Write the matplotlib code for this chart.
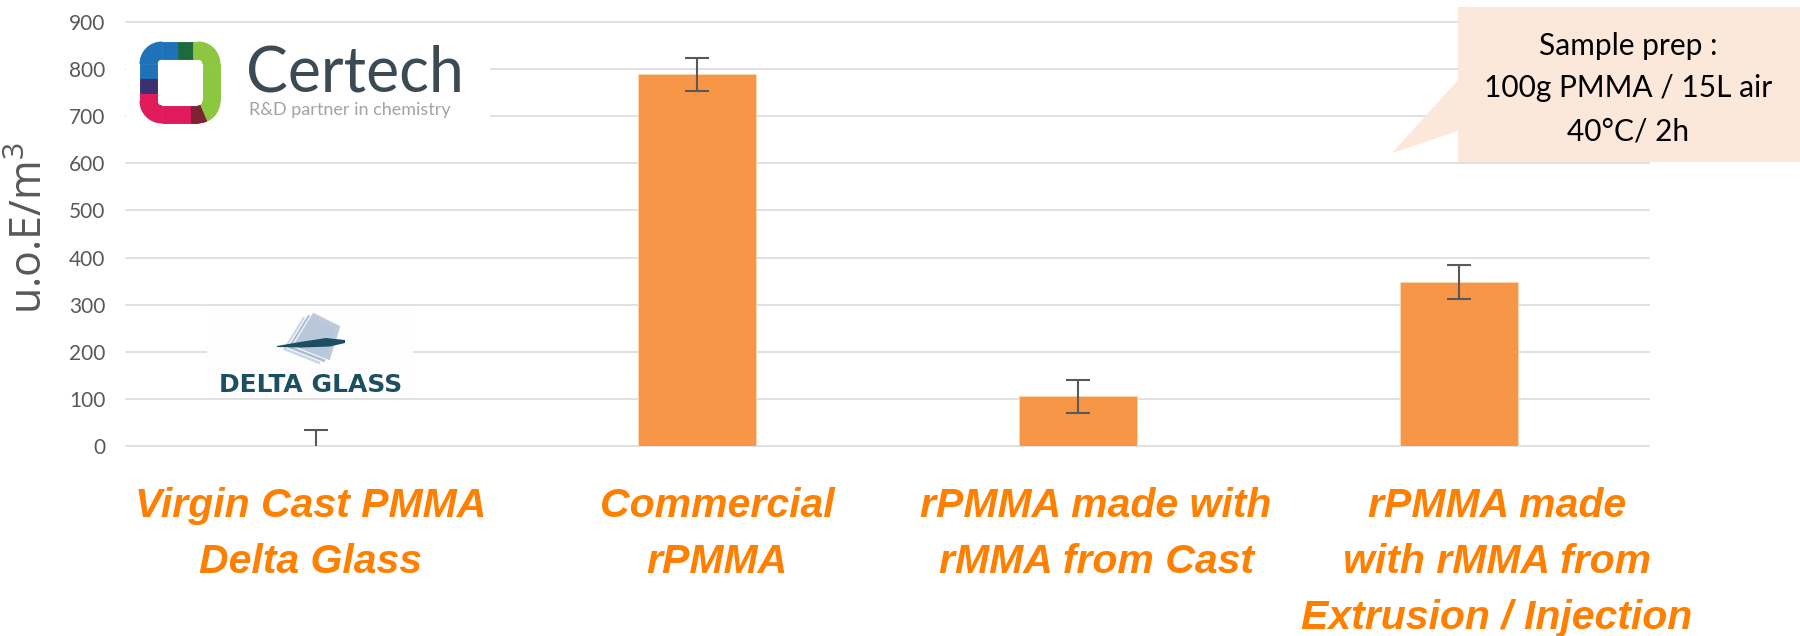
import matplotlib
matplotlib.use("Agg")
import numpy as np
import matplotlib.pyplot as plt
import matplotlib.transforms as mtransforms
from matplotlib.patches import Rectangle, Polygon
from matplotlib.collections import PolyCollection

plt.rcParams["font.family"] = ["Lato", "DejaVu Sans"]
plt.rcParams["mathtext.default"] = "regular"

# ---- data -------------------------------------------------------------
categories = [
    "Virgin Cast PMMA\nDelta Glass",
    "Commercial\nrPMMA",
    "rPMMA made with\nrMMA from Cast",
    "rPMMA made\nwith rMMA from\nExtrusion / Injection",
]
odour_conc = [0, 789, 106, 349]        # u.o.E/m3
odour_err = [35, 35, 35, 36]
label_shift = [-0.015, 0.052, 0.048, 0.10]
y_ticks = [0, 100, 200, 300, 400, 500, 600, 700, 800, 900]
note_lines = ["Sample prep :", "100g PMMA / 15L air", "40°C/ 2h"]

W, H = 1800, 636
fig = plt.figure(figsize=(W / 100, H / 100), dpi=100)
fig.patch.set_facecolor("white")

# ---- bar chart --------------------------------------------------------
ax = fig.add_axes([126 / W, 1 - 446 / H, (1649 - 126) / W, 424 / H])
x = np.arange(len(categories))
ax.bar(x, odour_conc, width=0.31, color="#f79646", edgecolor="#fcd7b4",
       linewidth=0.6, zorder=2)
ax.errorbar(x, odour_conc, yerr=odour_err, fmt="none", ecolor="#595959",
            elinewidth=1.5, capsize=8.5, capthick=1.5, zorder=3)
ax.set_xlim(-0.5, len(categories) - 0.5)
ax.set_ylim(0, 900)
ax.set_yticks(y_ticks)
ax.yaxis.grid(True, color="#d9d9d9", linewidth=1.1)
for gl in ax.get_ygridlines():
    gl.set_clip_on(False)
ax.set_axisbelow(True)
for s in ax.spines.values():
    s.set_visible(False)
ax.tick_params(axis="y", length=0, pad=15, labelsize=15, labelcolor="#595959")
ax.tick_params(axis="x", length=0, labelbottom=False)
ax.set_xticks(x)

fig.text(31 / W, 1 - 228 / H, "u.o.E/m$^3$", rotation=90, ha="center",
         va="center", fontsize=31, color="#595959",
         family=["Open Sans", "DejaVu Sans"])

# ---- decoration layer in pixel units (y pointing down) ----------------
deco = fig.add_axes([0, 0, 1, 1], zorder=5)
deco.set_xlim(0, W)
deco.set_ylim(H, 0)
deco.axis("off")
deco.patch.set_alpha(0)

# category labels under the bars
lab_tf = mtransforms.blended_transform_factory(ax.transData, deco.transData)
baselines = [517, 573, 629]
for i, (cat, dx) in enumerate(zip(categories, label_shift)):
    for k, line in enumerate(cat.split("\n")):
        deco.text(i + dx, baselines[k], line, transform=lab_tf, ha="center",
                  va="baseline", fontsize=29.5, color="#ff8000",
                  family=["Liberation Sans", "DejaVu Sans"],
                  fontweight="bold", fontstyle="italic")

# Certech logo
deco.add_patch(Rectangle((126, 25), 364, 112, facecolor="white",
                         edgecolor="none", zorder=1))


def ring_samples(x0, y0, x1, y1, r, n=24):
    s = []
    for a in np.linspace(180, 270, n):
        s.append((x0 + r, y0 + r, a))
    for t in np.linspace(0, 1, n)[1:]:
        s.append((x0 + r + t * (x1 - x0 - 2 * r), y0 + r, 270))
    for a in np.linspace(270, 360, n)[1:]:
        s.append((x1 - r, y0 + r, a))
    for t in np.linspace(0, 1, n)[1:]:
        s.append((x1 - r, y0 + r + t * (y1 - y0 - 2 * r), 0))
    for a in np.linspace(0, 90, n)[1:]:
        s.append((x1 - r, y1 - r, a))
    for t in np.linspace(0, 1, n)[1:]:
        s.append((x1 - r - t * (x1 - x0 - 2 * r), y1 - r, 90))
    for a in np.linspace(90, 180, n)[1:]:
        s.append((x0 + r, y1 - r, a))
    for t in np.linspace(0, 1, n)[1:]:
        s.append((x0 + r, y1 - r - t * (y1 - y0 - 2 * r), 180))
    return s


def ring_colour(px, py):
    if px < 162:
        if py > 93:
            return "#e01a5b"
        if py > 79:
            return "#3b2f6e"
        return "#1f72b8"
    if py < 70:
        if px < 177:
            return "#1f72b8"
        if px < 193:
            return "#1d6a3d"
        return "#8dc63f"
    if py > 100:
        if px < 190:
            return "#e01a5b"
        if px < 203:
            return "#7c2234"
        return "#8dc63f"
    return "#8dc63f"


samples = ring_samples(148.5, 50.5, 211.5, 114.5, 13.5)
half = 8.5
r0 = 13.5
quads, cols = [], []
for (ax0, ay0, a0), (ax1, ay1, a1) in zip(samples[:-1], samples[1:]):
    c0, s0 = np.cos(np.radians(a0)), np.sin(np.radians(a0))
    c1, s1 = np.cos(np.radians(a1)), np.sin(np.radians(a1))
    po0 = (ax0 + (r0 + half) * c0, ay0 + (r0 + half) * s0)
    po1 = (ax1 + (r0 + half) * c1, ay1 + (r0 + half) * s1)
    pi1 = (ax1 + (r0 - half) * c1, ay1 + (r0 - half) * s1)
    pi0 = (ax0 + (r0 - half) * c0, ay0 + (r0 - half) * s0)
    quads.append([po0, po1, pi1, pi0])
    mx = (ax0 + r0 * c0 + ax1 + r0 * c1) / 2
    my = (ay0 + r0 * s0 + ay1 + r0 * s1) / 2
    cols.append(ring_colour(mx, my))
deco.add_collection(PolyCollection(quads, facecolors=cols, edgecolors=cols,
                                   linewidths=0.6, zorder=2))

deco.text(246, 91, "Certech", fontsize=45, color="#3c4a54", ha="left",
          va="baseline", zorder=3)
deco.text(249, 115, "R&D partner in chemistry", fontsize=13,
          color="#9ea4a8", ha="left", va="baseline", zorder=3)

# Delta Glass logo
deco.add_patch(Rectangle((207, 308), 206, 90, facecolor="#fefefe",
                         edgecolor="none", zorder=1))
plate = np.array([(303, 316), (331, 330), (320, 365), (282, 350)], float)
for k, fc in enumerate(["#c9d5e3", "#a9bcd3", "#b9c8da"]):
    deco.add_patch(Polygon(plate + np.array([5 * k, -2 * k]), closed=True,
                           facecolor=fc, edgecolor="white", linewidth=0.8,
                           alpha=0.95, zorder=2))
swoosh = [(277, 346), (300, 342), (326, 338), (345, 340),
          (345, 343), (330, 346.5), (302, 347.5), (277, 347)]
deco.add_patch(Polygon(swoosh, closed=True, facecolor="#1d4f63",
                       edgecolor="none", zorder=3))
deco.text(310.5, 392, "DELTA GLASS", fontsize=18, color="#1d4f63",
          family=["DejaVu Sans"], fontweight="bold", ha="center",
          va="baseline", zorder=3)

# sample-preparation callout
callout = [(1458, 7), (1800, 7), (1800, 162), (1458, 162), (1458, 131),
           (1392, 153), (1458, 80)]
deco.add_patch(Polygon(callout, closed=True, facecolor="#fce8da",
                       edgecolor="none", zorder=1))
for k, line in enumerate(note_lines):
    deco.text(1628, 55 + 42.5 * k, line, fontsize=21.5, color="black",
              ha="center", va="baseline", zorder=3)

fig.savefig("out.png", dpi=100, facecolor="white")
